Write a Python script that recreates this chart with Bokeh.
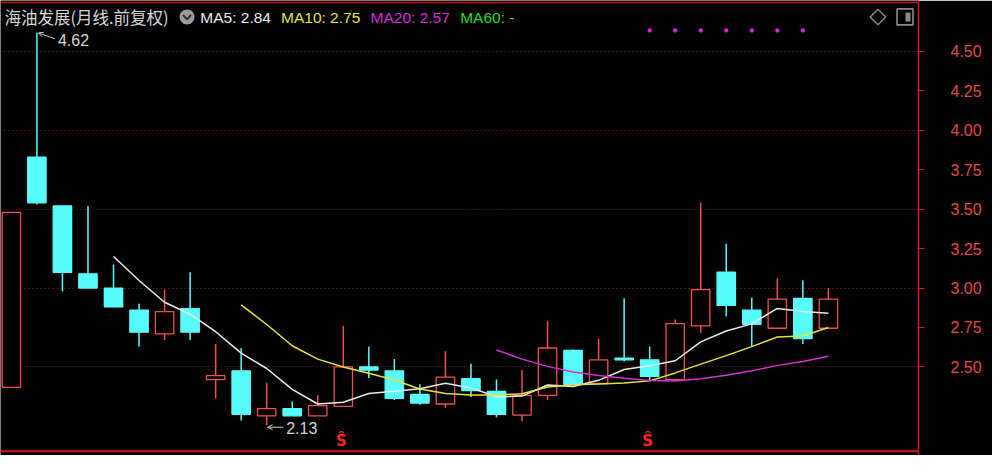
import numpy as np
import pandas as pd
from bokeh.plotting import figure
from bokeh.models import (Range1d, FixedTicker, PrintfTickFormatter, Span, Label,
                          Arrow, OpenHead, ColumnDataSource)
from bokeh.embed import file_html
from bokeh.resources import INLINE
from bokeh.core.properties import value

# ---------------- data (monthly OHLC, forward adjusted) ----------------
opens  = [2.37, 3.83, 3.52, 3.09, 3.00, 2.86, 2.71, 2.87, 2.42, 2.475, 2.19, 2.235,
          2.19, 2.25, 2.50, 2.475, 2.325, 2.265, 2.425, 2.345, 2.195, 2.32, 2.605,
          2.395, 2.555, 2.545, 2.42, 2.76, 3.10, 2.86, 2.745, 2.935, 2.745]
highs  = [3.48, 4.62, 3.52, 3.52, 3.15, 2.90, 2.99, 3.10, 2.645, 2.62, 2.40, 2.28,
          2.32, 2.76, 2.63, 2.55, 2.39, 2.60, 2.52, 2.42, 2.48, 2.79, 2.61,
          2.68, 2.935, 2.63, 2.80, 3.54, 3.28, 2.94, 3.06, 3.05, 3.00]
lows   = [2.37, 3.53, 2.98, 3.00, 2.88, 2.63, 2.67, 2.67, 2.30, 2.16, 2.13, 2.19,
          2.19, 2.25, 2.43, 2.29, 2.26, 2.24, 2.31, 2.18, 2.155, 2.29, 2.39,
          2.39, 2.535, 2.415, 2.41, 2.715, 2.82, 2.63, 2.745, 2.645, 2.745]
closes = [3.48, 3.54, 3.10, 3.00, 2.88, 2.72, 2.85, 2.72, 2.445, 2.20, 2.235, 2.19,
          2.255, 2.50, 2.48, 2.30, 2.27, 2.435, 2.35, 2.20, 2.32, 2.62, 2.39,
          2.545, 2.545, 2.44, 2.775, 2.99, 2.89, 2.77, 2.93, 2.68, 2.93]

y_ticks = [2.50, 2.75, 3.00, 3.25, 3.50, 3.75, 4.00, 4.25, 4.50]
y_tick_labels = ["2.50", "2.75", "3.00", "3.25", "3.50", "3.75", "4.00", "4.25", "4.50"]
grid_levels = [2.50, 3.00, 3.50, 4.00, 4.50]

title_text = "海油发展(月线.前复权)"
ma_windows = [5, 10, 20]
ma_labels = ["MA5: 2.84", "MA10: 2.75", "MA20: 2.57", "MA60: -"]
ma_colors = ["#ececec", "#e4e43c", "#d62ed6", "#22dd22"]

dot_idx = [25, 26, 27, 28, 29, 30, 31]   # magenta marker row
dot_level = 4.633
signal_idx = [13, 25]                     # red "S" signals at bottom

# ---------------- layout helpers (reference pixel -> data) ----------------
W, H = 992, 455
PX_PER_BAR = 25.94          # reference px per bar
PX_PER_UNIT = 163.3         # reference px per price unit
X0 = -11.06 / PX_PER_BAR
X1 = (932.7 - 11.06) / PX_PER_BAR


def dx(px):
    return X0 + px / PX_PER_BAR


def dy(py):
    return 4.5 - (py - 52.7) / PX_PER_UNIT


p = figure(width=W, height=H, output_backend="svg", toolbar_location=None,
           x_range=Range1d(X0, X1), y_range=Range1d(dy(471), dy(0)),
           x_axis_location=None, y_axis_location="right",
           background_fill_color="black", border_fill_color="black",
           outline_line_color=None, min_border_left=0, min_border_top=0,
           min_border_bottom=0, min_border_right=74)

# grid
p.xgrid.visible = False
p.ygrid.ticker = FixedTicker(ticks=grid_levels)
p.ygrid.grid_line_color = "#9a1c1c"
p.ygrid.grid_line_dash = "1 3"
p.ygrid.grid_line_width = 1

# right axis
ax = p.yaxis[0]
ax.ticker = FixedTicker(ticks=y_ticks, minor_ticks=[])
ax.formatter = PrintfTickFormatter(format="%.2f")
ax.major_label_overrides = {t: s for t, s in zip(y_ticks, y_tick_labels)}
ax.axis_line_color = "#d41a1a"
ax.axis_line_width = 1.5
ax.major_tick_line_color = "#d41a1a"
ax.major_tick_in = 0
ax.major_tick_out = 6
ax.major_label_standoff = 26
ax.major_label_text_color = "#e04a4a"
ax.major_label_text_font = "Liberation Sans"
ax.major_label_text_font_size = "16px"

# frame lines top / bottom
p.add_layout(Span(location=dy(2), dimension="width", line_color="#c41616", line_width=1.5))
p.add_layout(Span(location=dy(466.7), dimension="width", line_color="#b81212", line_width=2.5))

# ---------------- candles ----------------
idx = np.arange(len(closes))
o = np.array(opens); c = np.array(closes)
up = c >= o
red, cyan = "#f24e4e", "#57fcfc"
src = ColumnDataSource(dict(
    x=idx, high=highs, low=lows,
    top=np.maximum(o, c), bottom=np.minimum(o, c),
    line=[red if u else cyan for u in up],
    fill=["black" if u else cyan for u in up],
))
p.segment(x0="x", y0="low", x1="x", y1="high", line_color="line", line_width=1.5, source=src)
p.vbar(x="x", width=0.72, top="top", bottom="bottom", fill_color="fill",
       line_color="line", line_width=1.3, source=src)

# moving averages
cs = pd.Series(closes)
for w, col in zip(ma_windows, ma_colors):
    ma = cs.rolling(w).mean()
    ok = ma.notna().values
    p.line(idx[ok], ma.values[ok], line_color=col, line_width=1.5)

# marker row + signals
p.scatter(dot_idx, [dot_level] * len(dot_idx), size=3.5, color="#e020e0")
p.text(x=signal_idx, y=[dy(456)] * len(signal_idx), text=["Ŝ"] * len(signal_idx),
       text_color="#ff2222", text_font=value("DejaVu Sans"), text_font_style="bold",
       text_font_size="15px", text_align="center", text_baseline="middle", x_offset=-2)

# high / low annotations
hi_i = int(np.argmax(highs)); hi_v = highs[hi_i]
lo_i = int(np.argmin(lows)); lo_v = lows[lo_i]
p.add_layout(Label(x=hi_i, y=hi_v, x_offset=21, y_offset=-7.5, text=f"{hi_v:.2f}",
                   text_color="#d6d6d6", text_font="Liberation Sans", text_font_size="16px",
                   text_baseline="middle"))
p.add_layout(Arrow(end=OpenHead(size=5, line_color="#cfcfcf", line_width=1),
                   x_start=hi_i + 18.5 / PX_PER_BAR, y_start=hi_v - 6.5 / PX_PER_UNIT,
                   x_end=hi_i + 1.5 / PX_PER_BAR, y_end=hi_v - 0.5 / PX_PER_UNIT,
                   line_color="#cfcfcf", line_width=1))
p.add_layout(Label(x=lo_i, y=lo_v, x_offset=19.5, y_offset=-2.7, text=f"{lo_v:.2f}",
                   text_color="#d6d6d6", text_font="Liberation Sans", text_font_size="16px",
                   text_baseline="middle"))
p.add_layout(Arrow(end=OpenHead(size=5, line_color="#cfcfcf", line_width=1),
                   x_start=lo_i + 17 / PX_PER_BAR, y_start=lo_v - 2 / PX_PER_UNIT,
                   x_end=lo_i + 1 / PX_PER_BAR, y_end=lo_v - 2 / PX_PER_UNIT,
                   line_color="#cfcfcf", line_width=1))

# ---------------- header ----------------
p.add_layout(Label(x=dx(4), y=dy(17.5), text=title_text, text_color="#d8d8d8",
                   text_font="Noto Sans CJK SC", text_font_size="16.5px", text_baseline="middle"))
p.scatter([dx(189.5)], [dy(17)], size=15, fill_color="#9c9c9c", line_color=None)
p.line([dx(185.5), dx(189.5), dx(193.5)], [dy(15), dy(19.5), dy(15)],
       line_color="#2a2a2a", line_width=2)
ma_label_x = [203, 285, 376, 467]
for t, col, xx in zip(ma_labels, ma_colors, ma_label_x):
    p.add_layout(Label(x=dx(xx), y=dy(17.5), text=t, text_color=col,
                       text_font="Liberation Sans", text_font_size="15.5px",
                       text_baseline="middle"))

# top-right icons
p.scatter([dx(891.5)], [dy(17)], marker="square", angle=np.pi / 4, size=11,
          fill_color=None, line_color="#8a8a8a", line_width=1.4)
p.scatter([dx(919)], [dy(17)], marker="square", size=16,
          fill_color=None, line_color="#8a8a8a", line_width=1.6)
p.rect([dx(922)], [dy(17)], width=5, height=9, width_units="screen", height_units="screen",
       fill_color="#8a8a8a", line_color=None)

open("out.html", "w").write(file_html(p, INLINE))
